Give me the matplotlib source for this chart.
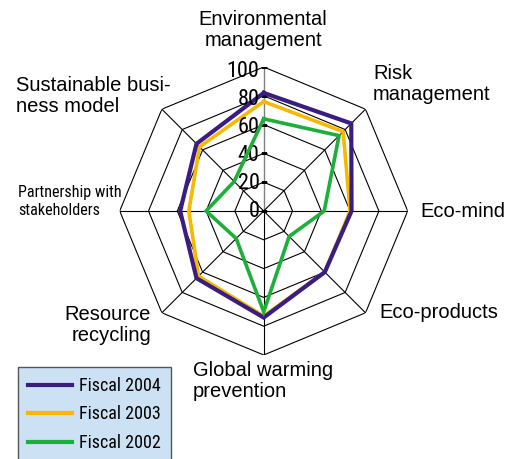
import os
import numpy as np
import matplotlib
matplotlib.use("Agg")
import matplotlib.pyplot as plt
from matplotlib import font_manager
from matplotlib.font_manager import FontProperties
from matplotlib.lines import Line2D

categories = ["Environmental\nmanagement", "Risk\nmanagement", "Eco-mind", "Eco-products",
              "Global warming\nprevention", "Resource\nrecycling",
              "Partnership with\nstakeholders", "Sustainable busi-\nness model"]
fy2004 = [82, 86, 61, 60, 74, 66, 58, 66]
fy2003 = [76, 78, 60, 60, 73, 64, 52, 63]
fy2002 = [64, 74, 42, 25, 70, 27, 40, 29]
series_names = ["Fiscal 2004", "Fiscal 2003", "Fiscal 2002"]
levels = [0, 20, 40, 60, 80, 100]

# use a condensed font if one is installed, otherwise Roboto
wanted = ["LiberationSansNarrow-Regular", "NotoSans-Condensed.", "RobotoCondensed-Regular",
          "OpenSansCondensed-Regular", "DejaVuSansCondensed.", "Roboto-Regular"]
files = [f.fname for f in font_manager.fontManager.ttflist]
narrow_file = None
for w in wanted:
    for fp in files:
        if w in os.path.basename(fp):
            narrow_file = fp
            break
    if narrow_file:
        break

def nprop(size):
    if narrow_file:
        return FontProperties(fname=narrow_file, size=size)
    return FontProperties(family="DejaVu Sans", size=size * 0.85)

SANS = "Liberation Sans"

W, H = 522, 459
fig = plt.figure(figsize=(W / 100, H / 100), dpi=100)
cx, cy, R = 263.7, 211, 144
ax = fig.add_axes([(cx - R) / W, (H - cy - R) / H, 2 * R / W, 2 * R / H], projection="polar")
ax.set_theta_offset(np.pi / 2)
ax.set_theta_direction(-1)
ax.set_ylim(0, 100)
ax.grid(False)
ax.spines["polar"].set_visible(False)
ax.set_xticks([])
ax.set_yticks([])
ax.patch.set_alpha(0)

n = len(categories)
ang = np.linspace(0, 2 * np.pi, n, endpoint=False)
ang_c = np.append(ang, ang[0])

for lv in levels[1:]:
    ax.plot(ang_c, [lv] * (n + 1), color="black", lw=0.8, zorder=1)
for i, a in enumerate(ang):
    ax.plot([a, a], [0, 100], color="#808080" if i == 0 else "black", lw=1.0 if i == 0 else 0.8, zorder=1)

for lv in levels:
    ax.annotate(str(lv), xy=(0, lv), xytext=(-3, -0.5 - 3 * lv / 100), textcoords="offset points",
                ha="right", va="center", fontproperties=nprop(16), color="black", zorder=5)
    ax.plot([0], [lv], marker="_", ms=5, color="black", mew=1, zorder=2)

colors = {"Fiscal 2004": "#3b1c80", "Fiscal 2003": "#f6b800", "Fiscal 2002": "#1eae3a"}
data = {"Fiscal 2004": fy2004, "Fiscal 2003": fy2003, "Fiscal 2002": fy2002}
z = {"Fiscal 2003": 3, "Fiscal 2004": 4, "Fiscal 2002": 5}
lw = {"Fiscal 2004": 3.0, "Fiscal 2003": 2.6, "Fiscal 2002": 2.6}
for name in series_names:
    vals = data[name]
    ax.plot(ang_c, list(vals) + [vals[0]], color=colors[name], lw=lw[name], zorder=z[name],
            solid_joinstyle="miter")

def ftext(x, y, s, **kw):
    fig.text(x / W, 1 - y / H, s, **kw)

fs = 14.5
ls = 1.12
ftext(263, 30, categories[0], ha="center", va="center", fontsize=fs, family=SANS, linespacing=ls)
ftext(373, 84, categories[1], ha="left", va="center", fontsize=fs, family=SANS, linespacing=ls)
ftext(420, 211, categories[2], ha="left", va="center", fontsize=fs, family=SANS)
ftext(379, 313, categories[3], ha="left", va="center", fontsize=fs, family=SANS)
ftext(193, 381, categories[4], ha="left", va="center", fontsize=fs, family=SANS, linespacing=ls)
ftext(151, 325, categories[5], ha="right", va="center", fontsize=fs, family=SANS, linespacing=ls, multialignment="right")
ftext(18, 202, categories[6], ha="left", va="center", fontproperties=nprop(11.6), linespacing=1.25)
ftext(16, 96, categories[7], ha="left", va="center", fontsize=fs, family=SANS, linespacing=ls)

leg_fs = 13.0
px = leg_fs * 100 / 72
handles = [Line2D([], [], color=colors[nm], lw=3) for nm in series_names]
leg = fig.legend(handles, series_names, loc="upper left", bbox_to_anchor=(18 / W, 1 - 367 / H),
                 borderaxespad=0, prop=nprop(leg_fs),
                 handlelength=44 / px, handletextpad=7 / px,
                 labelspacing=0.58, borderpad=0.55,
                 fancybox=False, framealpha=1, facecolor="#cde1f5", edgecolor="#555555")
leg.get_frame().set_linewidth(1.0)

fig.savefig("out.png", dpi=100)
